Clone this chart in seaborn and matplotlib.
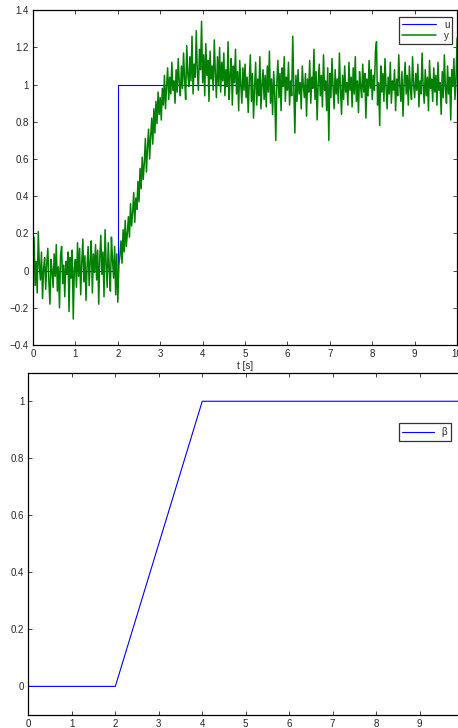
"""
Step response with noise (top) and ramp weight beta (bottom)
"""

import matplotlib
matplotlib.use("Agg")
import matplotlib.pyplot as plt
import seaborn as sns
import numpy as np
import pandas as pd


# input step u
u_t = [0, 2, 2, 10]
u_val = [0, 0, 1, 1]

y_val = [
    0.02, 0.18, -0.08, 0.05, -0.12, 0.21, 0.03, -0.05, 0.10, -0.15, 0.01, 0.07, -0.10, 0.04, 0.12, -0.06, -0.18, 0.06, 0.00, -0.09,
    0.09, -0.03, 0.14, -0.11, 0.02, -0.20, 0.08, 0.13, -0.07, 0.03, -0.14, 0.05, -0.02, 0.10, -0.22, 0.07, -0.04, 0.11, -0.26, 0.01,
    0.06, -0.09, 0.15, -0.03, 0.12, -0.13, 0.04, 0.17, -0.06, 0.08, -0.16, 0.02, 0.13, -0.08, 0.05, 0.16, -0.12, 0.09, -0.01, 0.14,
    -0.05, 0.11, -0.18, 0.07, 0.19, -0.02, 0.10, -0.14, 0.22, 0.04, -0.09, 0.15, 0.01, -0.11, 0.18, 0.06, -0.04, 0.13, -0.13, 0.09,
    -0.17, 0.03, 0.08, 0.16, 0.04, 0.22, 0.10, 0.27, 0.13, 0.20, 0.29, 0.18, 0.36, 0.24, 0.31, 0.42, 0.26, 0.39, 0.33, 0.48,
    0.37, 0.55, 0.44, 0.61, 0.49, 0.58, 0.71, 0.53, 0.66, 0.76, 0.60, 0.72, 0.82, 0.68, 0.87, 0.74, 0.91, 0.79, 0.96, 0.84,
    0.93, 0.81, 0.98, 0.89, 1.05, 0.87, 0.99, 1.09, 0.92, 1.04, 0.95, 1.12, 0.97, 1.02, 0.90, 1.08, 0.96, 1.14, 1.01, 0.94,
    1.10, 0.98, 1.17, 1.03, 0.92, 1.21, 1.06, 0.99, 1.15, 1.02, 1.26, 0.95, 1.11, 1.04, 1.29, 1.07, 0.97, 1.19, 1.08, 1.34,
    1.01, 1.16, 0.94, 1.22, 1.05, 1.13, 0.91, 1.18, 1.03, 1.10, 0.97, 1.24, 1.06, 0.93, 1.15, 1.00, 1.20, 0.96, 1.12, 1.02,
    1.17, 0.94, 1.08, 0.99, 1.23, 0.92, 1.05, 1.14, 0.89, 1.10, 1.01, 1.19, 0.95, 1.07, 0.86, 1.13, 1.00, 0.90, 1.09, 0.97,
    1.11, 0.93, 1.04, 0.85, 1.02, 1.16, 0.91, 1.06, 0.82, 0.98, 1.12, 0.89, 1.03, 0.94, 1.15, 0.87, 1.00, 1.08, 0.92, 1.05,
    0.88, 1.10, 0.96, 1.18, 0.90, 1.03, 0.84, 1.07, 0.95, 0.70, 1.01, 1.13, 0.93, 1.06, 0.86, 1.09, 0.99, 1.15, 0.91, 1.04,
    0.97, 1.12, 0.89, 1.02, 0.94, 1.26, 0.98, 0.74, 1.05, 0.91, 1.08, 0.95, 1.01, 0.87, 1.10, 0.99, 0.93, 1.06, 0.83, 1.03,
    0.96, 1.13, 0.90, 1.04, 0.98, 1.19, 0.92, 1.07, 0.81, 1.01, 1.11, 0.94, 1.05, 0.88, 1.16, 0.97, 1.02, 0.86, 1.09, 0.70,
    1.06, 0.93, 1.14, 0.99, 0.87, 1.08, 0.95, 1.03, 0.90, 1.17, 0.98, 0.84, 1.05, 0.92, 1.10, 0.96, 1.01, 0.89, 1.12, 0.97,
    1.04, 0.88, 1.09, 0.95, 1.15, 0.91, 1.02, 0.85, 1.07, 0.99, 0.93, 1.11, 0.96, 1.06, 0.82, 1.03, 0.94, 1.13, 0.98, 1.08,
    0.92, 1.05, 0.97, 1.18, 1.23, 0.89, 1.01, 0.78, 1.10, 0.96, 1.06, 0.91, 1.14, 0.99, 0.87, 1.04, 0.95, 1.12, 0.90, 1.02,
    0.97, 1.08, 0.86, 1.03, 0.94, 1.16, 0.99, 0.91, 1.07, 0.83, 1.01, 1.12, 0.95, 1.05, 0.89, 1.10, 0.98, 0.92, 1.15, 1.00,
    0.93, 1.06, 0.97, 1.11, 0.88, 1.02, 0.95, 1.17, 0.99, 0.90, 1.08, 0.94, 1.04, 0.86, 1.13, 0.98, 1.03, 0.91, 1.09, 0.96,
    1.05, 0.89, 1.12, 0.97, 1.01, 0.84, 1.07, 0.93, 1.16, 0.98, 0.90, 1.10, 0.95, 1.04, 0.81, 1.08, 0.99, 1.14, 0.92, 1.03,
    1.25,
]
y_t = np.linspace(0, 10, len(y_val))

# ramp weight beta
b_t = [0, 2, 4, 10]
b_val = [0, 0, 1, 1]

top_yticks = [-0.4, -0.2, 0, 0.2, 0.4, 0.6, 0.8, 1, 1.2, 1.4]
top_ylabels = ["\u22120.4", "\u22120.2", "0", "0.2", "0.4", "0.6", "0.8", "1", "1.2", "1.4"]
bot_yticks = [0, 0.2, 0.4, 0.6, 0.8, 1]
bot_ylabels = ["0", "0.2", "0.4", "0.6", "0.8", "1"]
xticks = list(range(11))

sns.set_style("ticks")
plt.rcParams["font.family"] = ["Liberation Sans", "DejaVu Sans"]
plt.rcParams["xtick.direction"] = "in"
plt.rcParams["ytick.direction"] = "in"
plt.rcParams["xtick.top"] = True
plt.rcParams["ytick.right"] = True
plt.rcParams["axes.linewidth"] = 0.9

fig = plt.figure(figsize=(4.58, 7.28), dpi=100)
ax1 = fig.add_axes([0.072, 0.526, 0.926, 0.460])
ax2 = fig.add_axes([0.062, 0.018, 0.949, 0.470])

df_u = pd.DataFrame({"t": u_t, "v": u_val})
df_y = pd.DataFrame({"t": y_t, "v": y_val})
df_b = pd.DataFrame({"t": b_t, "v": b_val})

sns.lineplot(data=df_u, x="t", y="v", ax=ax1, color="#0000ff", lw=0.8,
             estimator=None, sort=False, label="u")
sns.lineplot(data=df_y, x="t", y="v", ax=ax1, color="#008000", lw=1.1,
             estimator=None, sort=False, label="y")
sns.lineplot(data=df_b, x="t", y="v", ax=ax2, color="#0000ff", lw=0.8,
             estimator=None, sort=False, label="\u03b2")

ax1.set_xlim(0, 10)
ax1.set_ylim(-0.4, 1.4)
ax1.set_xticks(xticks)
ax1.set_xticklabels([str(v) for v in xticks])
ax1.set_yticks(top_yticks)
ax1.set_yticklabels(top_ylabels)
ax1.set_xlabel("t [s]", fontsize=7, labelpad=1)
ax1.set_ylabel("")

ax2.set_xlim(0, 10)
ax2.set_ylim(-0.1, 1.1)
ax2.set_xticks(xticks)
ax2.set_xticklabels([str(v) for v in xticks[:-1]] + [""])
ax2.set_yticks(bot_yticks)
ax2.set_yticklabels(bot_ylabels)
ax2.set_xlabel("")
ax2.set_ylabel("")

for ax in (ax1, ax2):
    ax.tick_params(labelsize=7, length=3, width=0.6, pad=3)
    for s in ax.spines.values():
        s.set_visible(True)
        s.set_color("black")

leg1 = ax1.legend(loc="upper right", bbox_to_anchor=(0.998, 0.992), fontsize=7,
                  frameon=True, fancybox=False, edgecolor="black", borderpad=0.3,
                  labelspacing=0.1, handlelength=3.5, borderaxespad=0.4)
leg1.get_frame().set_linewidth(0.9)
leg2 = ax2.legend(loc="upper right", bbox_to_anchor=(0.972, 0.852), fontsize=7,
                  frameon=True, fancybox=False, edgecolor="black", borderpad=0.4,
                  handlelength=3.2, borderaxespad=0)
leg2.get_frame().set_linewidth(0.9)

fig.savefig("out.png", dpi=100)
